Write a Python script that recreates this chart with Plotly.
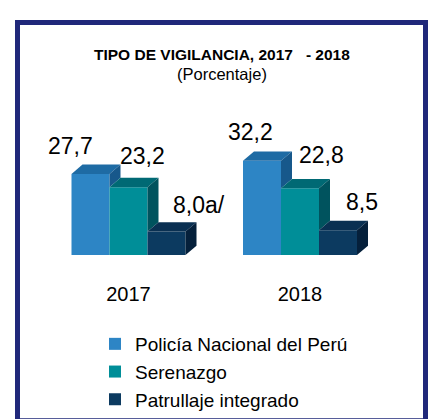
import plotly.graph_objects as go

# Data
years = ["2017", "2018"]
series = ["Policía Nacional del Perú", "Serenazgo", "Patrullaje integrado"]
values = {
    "Policía Nacional del Perú": [27.7, 32.2],
    "Serenazgo": [23.2, 22.8],
    "Patrullaje integrado": [8.0, 8.5],
}
label_suffix = {
    "Patrullaje integrado": ["a/", ""],
}

# Styles: front, top and side face colours per series
front_colors = ["#2d85c5", "#008e98", "#0c3a60"]
top_colors = ["#1e6ba4", "#006974", "#0a3052"]
side_colors = ["#17588b", "#00535e", "#05203b"]

# Label offsets (px) from the front-top centre of each bar
label_dx = [[-20, -12], [14, 21], [32, 24]]
label_dy = [[28, 29], [31, 33], [27, 28]]

FONT = "Liberation Sans, Arial, sans-serif"

W, H = 430, 419
M_L, M_R, M_T, M_B = 0, 0, 138, 156
px_per_unit_x = 171.5
x_center0 = 128.5
y_max = 40.0
plot_h = H - M_T - M_B
px_per_unit_y = plot_h / y_max

x_range = [-x_center0 / px_per_unit_x, (W - x_center0) / px_per_unit_x]
bar_w = 38 / px_per_unit_x
dx = 11 / px_per_unit_x
dy = 10 / px_per_unit_y

fig = go.Figure()
annotations = []
for k, name in enumerate(series):
    xs = [i + (k - 1) * bar_w for i in range(len(years))]
    fig.add_trace(go.Bar(
        x=xs, y=values[name], width=bar_w, name=name,
        marker=dict(color=front_colors[k], line=dict(width=0)),
        legendgroup=name, hoverinfo="skip",
    ))
    for i, v in enumerate(values[name]):
        x0 = xs[i] - bar_w / 2
        x1 = xs[i] + bar_w / 2
        # top face
        fig.add_trace(go.Scatter(
            x=[x0, x1, x1 + dx, x0 + dx, x0],
            y=[v, v, v + dy, v + dy, v],
            fill="toself", fillcolor=top_colors[k], mode="lines",
            line=dict(width=0, color=top_colors[k]),
            showlegend=False, hoverinfo="skip",
        ))
        # visible part of the side face
        if k < len(series) - 1:
            base = values[series[k + 1]][i]
        else:
            base = 0.0
        fig.add_trace(go.Scatter(
            x=[x1, x1, x1 + dx, x1 + dx, x1],
            y=[base, v, v + dy, base + dy, base],
            fill="toself", fillcolor=side_colors[k], mode="lines",
            line=dict(width=0, color=side_colors[k]),
            showlegend=False, hoverinfo="skip",
        ))
        suffix = label_suffix.get(name, ["", ""])[i]
        annotations.append(dict(
            x=xs[i], y=v, xref="x", yref="y",
            text=f"{v:.1f}".replace(".", ",") + suffix,
            showarrow=False, xanchor="center", yanchor="middle",
            xshift=label_dx[k][i], yshift=label_dy[k][i],
            font=dict(family=FONT, size=23, color="#000000"),
        ))


def py_to_paper(py):
    return (H - M_B - py) / plot_h


# Title
annotations.append(dict(
    x=222 / W, y=py_to_paper(49), xref="paper", yref="paper",
    text="<b>TIPO DE VIGILANCIA, 2017   - 2018</b>", showarrow=False,
    xanchor="center", yanchor="middle",
    font=dict(family=FONT, size=15.5, color="#000000"),
))
annotations.append(dict(
    x=222 / W, y=py_to_paper(70), xref="paper", yref="paper",
    text="(Porcentaje)", showarrow=False,
    xanchor="center", yanchor="middle",
    font=dict(family=FONT, size=16.5, color="#000000"),
))

fig.update_layout(
    width=W, height=H,
    margin=dict(l=M_L, r=M_R, t=M_T, b=M_B),
    paper_bgcolor="white", plot_bgcolor="white",
    barmode="overlay",
    xaxis=dict(
        range=x_range, tickvals=list(range(len(years))), ticktext=years,
        showgrid=False, zeroline=False, showline=False, ticks="",
        tickfont=dict(family=FONT, size=20, color="#000000"),
        ticklabelstandoff=25, fixedrange=True,
    ),
    yaxis=dict(range=[0, y_max], visible=False, fixedrange=True),
    showlegend=True,
    legend=dict(
        x=95 / W, y=py_to_paper(338), xanchor="left", yanchor="top",
        orientation="v", traceorder="grouped", tracegroupgap=0,
        font=dict(family=FONT, size=19, color="#000000"),
        bgcolor="rgba(0,0,0,0)",
    ),
    annotations=annotations,
    shapes=[dict(
        type="rect", xref="paper", yref="paper",
        x0=17.5 / W, x1=425.5 / W, y0=py_to_paper(440), y1=py_to_paper(14.5),
        line=dict(color="#20287a", width=5), fillcolor="rgba(0,0,0,0)",
        layer="below",
    )],
)

fig.write_html("out.html")
